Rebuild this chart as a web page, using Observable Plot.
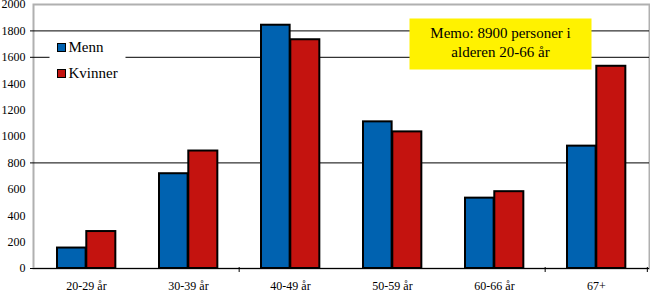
<!DOCTYPE html>
<html>
<head>
<meta charset="utf-8">
<script src="https://cdn.jsdelivr.net/npm/d3@7"></script>
<script src="https://cdn.jsdelivr.net/npm/@observablehq/plot@0.6"></script>
<style>
  html, body { margin: 0; padding: 0; background: white; }
  svg { overflow: visible; }
</style>
</head>
<body>
<script>
const ageGroups = ["20-29 år", "30-39 år", "40-49 år", "50-59 år", "60-66 år", "67+"];
const menn = [155, 718, 1843, 1111, 533, 927];
const kvinner = [280, 890, 1733, 1035, 582, 1532];
const seriesNames = ["Menn", "Kvinner"];
const yTickValues = [0, 200, 400, 600, 800, 1000, 1200, 1400, 1600, 1800, 2000];
const gridValues = [800, 1600, 1800];
const boundaryTicksLeft = ["40-49 år", "67+"];
const boundaryTicksRight = ["67+"];
const memoLines = ["Memo: 8900 personer i", "alderen 20-66 år"];

const colors = {Menn: "#0062b0", Kvinner: "#c4130f"};
const FONT = "'Liberation Serif', 'Times New Roman', serif";

const rows = ageGroups.map((g, i) => ({group: g, Menn: menn[i], Kvinner: kvinner[i]}));

const W = 650, H = 294, mL = 33, mR = 1, mT = 4, mB = 26;
const plotW = W - mL - mR, plotH = H - mT - mB;
const bw = plotW / ageGroups.length;

// box helper: absolute pixel box -> frame insets
const box = (x0, y0, x1, y1) => ({
  insetLeft: x0 - mL, insetRight: (W - mR) - x1,
  insetTop: y0 - mT, insetBottom: (H - mB) - y1
});

const legendMarks = seriesNames.flatMap((name, i) => [
  Plot.frame({fill: colors[name], stroke: "black", strokeWidth: 1, ...box(57, 43 + 26 * i, 65, 51 + 26 * i)}),
  Plot.text([name], {frameAnchor: "top-left", dx: 68 - mL, dy: 40.5 + 26 * i - mT, lineAnchor: "top", textAnchor: "start", fontSize: 15, fill: "black"})
]);

const chart = Plot.plot({
  width: W, height: H,
  marginLeft: mL, marginRight: mR, marginTop: mT, marginBottom: mB,
  style: {fontFamily: FONT, fontSize: "12px", background: "white", color: "black", overflow: "visible"},
  x: {domain: ageGroups, padding: 0, axis: null},
  y: {domain: [0, 2000], axis: null},
  marks: [
    Plot.frame({stroke: "#b0b0b0", strokeWidth: 2}),
    Plot.ruleY(gridValues, {stroke: "black", strokeWidth: 1, insetLeft: -3}),
    Plot.barY(rows, {x: "group", y: "Menn", fill: colors.Menn, stroke: "black", strokeWidth: 2, insetLeft: 22, insetRight: bw - 51.3}),
    Plot.barY(rows, {x: "group", y: "Kvinner", fill: colors.Kvinner, stroke: "black", strokeWidth: 2, insetLeft: 51.3, insetRight: bw - 81}),
    Plot.ruleY([0], {stroke: "black", strokeWidth: 1, insetLeft: -3}),
    Plot.ruleX(boundaryTicksLeft, {dx: -bw / 2, insetTop: plotH - 1, insetBottom: -4, stroke: "black"}),
    Plot.ruleX(boundaryTicksRight, {dx: bw / 2 - 0.5, insetTop: plotH - 1, insetBottom: -4, stroke: "black"}),
    Plot.axisY(yTickValues, {tickSize: 0, tickPadding: 8, fontSize: 12, label: null, tickFormat: d3.format("d")}),
    Plot.axisX({tickSize: 0, tickPadding: 13, fontSize: 12, label: null}),
    // legend box
    Plot.frame({fill: "white", ...box(49, 35, 125, 85)}),
    ...legendMarks,
    // memo box
    Plot.frame({fill: "#fff200", ...box(409, 18, 591, 69)}),
    Plot.text([memoLines.join("\n")], {frameAnchor: "top-left", dx: 500 - mL, dy: 24.5 - mT, lineAnchor: "top", textAnchor: "middle", lineHeight: 19 / 15, fontSize: 15, fill: "black"})
  ]
});
document.body.appendChild(chart);
</script>
</body>
</html>
